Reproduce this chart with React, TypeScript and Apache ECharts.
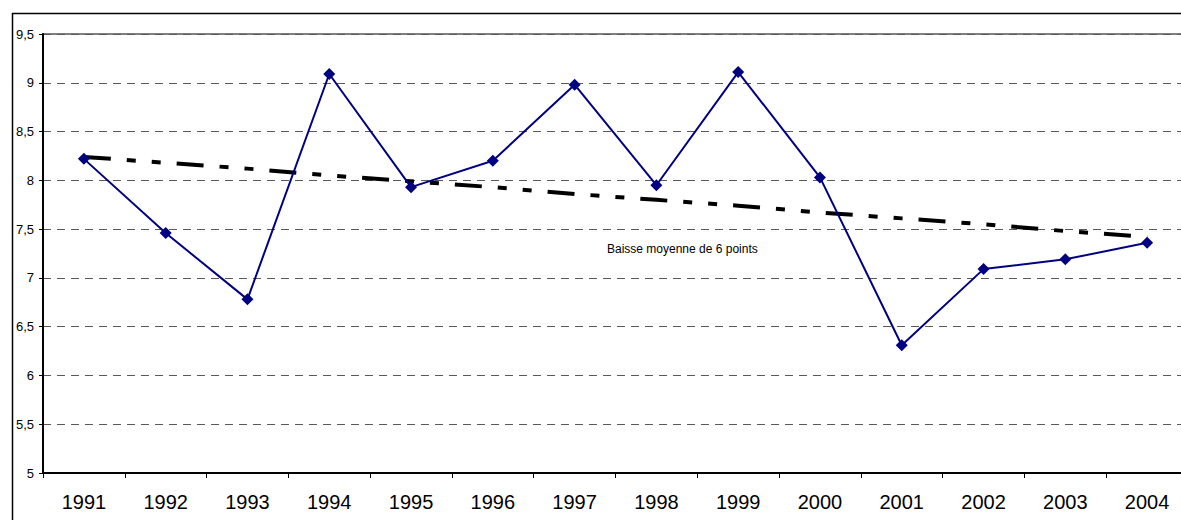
import React, { useEffect, useRef } from "react";
import * as echarts from "echarts";

const years = ["1991", "1992", "1993", "1994", "1995", "1996", "1997", "1998", "1999", "2000", "2001", "2002", "2003", "2004"];
const values = [8.22, 7.46, 6.78, 9.09, 7.93, 8.2, 8.98, 7.95, 9.11, 8.03, 6.31, 7.09, 7.19, 7.36];
const trend = [8.24, 8.18, 8.12, 8.05, 7.99, 7.93, 7.86, 7.8, 7.74, 7.67, 7.61, 7.55, 7.48, 7.42];
const yMin = 5;
const yMax = 9.5;
const yStep = 0.5;
const note = "Baisse moyenne de 6 points";

export default function App() {
  const ref = useRef<HTMLDivElement>(null);
  useEffect(() => {
    document.documentElement.style.overflow = "hidden";
    document.body.style.overflow = "hidden";
    if (!ref.current) return;
    const chart = echarts.init(ref.current, null, { renderer: "svg" });
    chart.setOption({
      animation: false,
      backgroundColor: "#ffffff",
      grid: {
        left: 43,
        top: 34,
        bottom: 47,
        right: 0,
        show: true,
        borderColor: "#808080",
        borderWidth: 2,
        backgroundColor: "transparent",
      },
      xAxis: {
        type: "category",
        data: years,
        boundaryGap: true,
        axisLine: { show: true, lineStyle: { color: "#000", width: 2 } },
        axisTick: { show: true, alignWithLabel: false, length: 5, lineStyle: { color: "#000", width: 1 } },
        axisLabel: {
          color: "#000",
          fontFamily: "Liberation Sans, Arial, sans-serif",
          fontSize: 20,
          margin: 19,
        },
        splitLine: { show: false },
      },
      yAxis: {
        type: "value",
        min: yMin,
        max: yMax,
        interval: yStep,
        axisLine: { show: true, lineStyle: { color: "#000", width: 2 } },
        axisTick: { show: true, length: 4, lineStyle: { color: "#000", width: 1 } },
        axisLabel: {
          color: "#000",
          fontFamily: "Liberation Sans, Arial, sans-serif",
          fontSize: 13,
          margin: 9,
          formatter: (v: number) => String(v).replace(".", ","),
        },
        splitLine: {
          show: true,
          lineStyle: { color: "#5a5a5a", width: 1, type: [8, 6] },
        },
      },
      graphic: [
        {
          type: "rect",
          shape: { x: 12.5, y: 13.5, width: 1300, height: 600 },
          style: { fill: "none", stroke: "#000", lineWidth: 1.5 },
          z: 100,
          silent: true,
        },
        {
          type: "text",
          left: 607,
          top: 243,
          style: {
            text: note,
            fill: "#000",
            font: "12px 'Liberation Sans', Arial, sans-serif",
          },
          z: 100,
        },
      ],
      series: [
        {
          name: "Tendance",
          type: "line",
          data: trend,
          symbol: "none",
          lineStyle: { color: "#000", width: 4, type: [27, 16, 9, 16, 9, 16] },
          z: 2,
        },
        {
          name: "Valeur",
          type: "line",
          data: values,
          symbol: "diamond",
          symbolSize: 12,
          itemStyle: { color: "#000080" },
          lineStyle: { color: "#000080", width: 2 },
          z: 3,
        },
      ],
    });
    return () => chart.dispose();
  }, []);
  return (
    <div
      ref={ref}
      style={{ position: "fixed", left: 0, top: 0, width: 1188, height: 520, background: "#fff" }}
    />
  );
}
